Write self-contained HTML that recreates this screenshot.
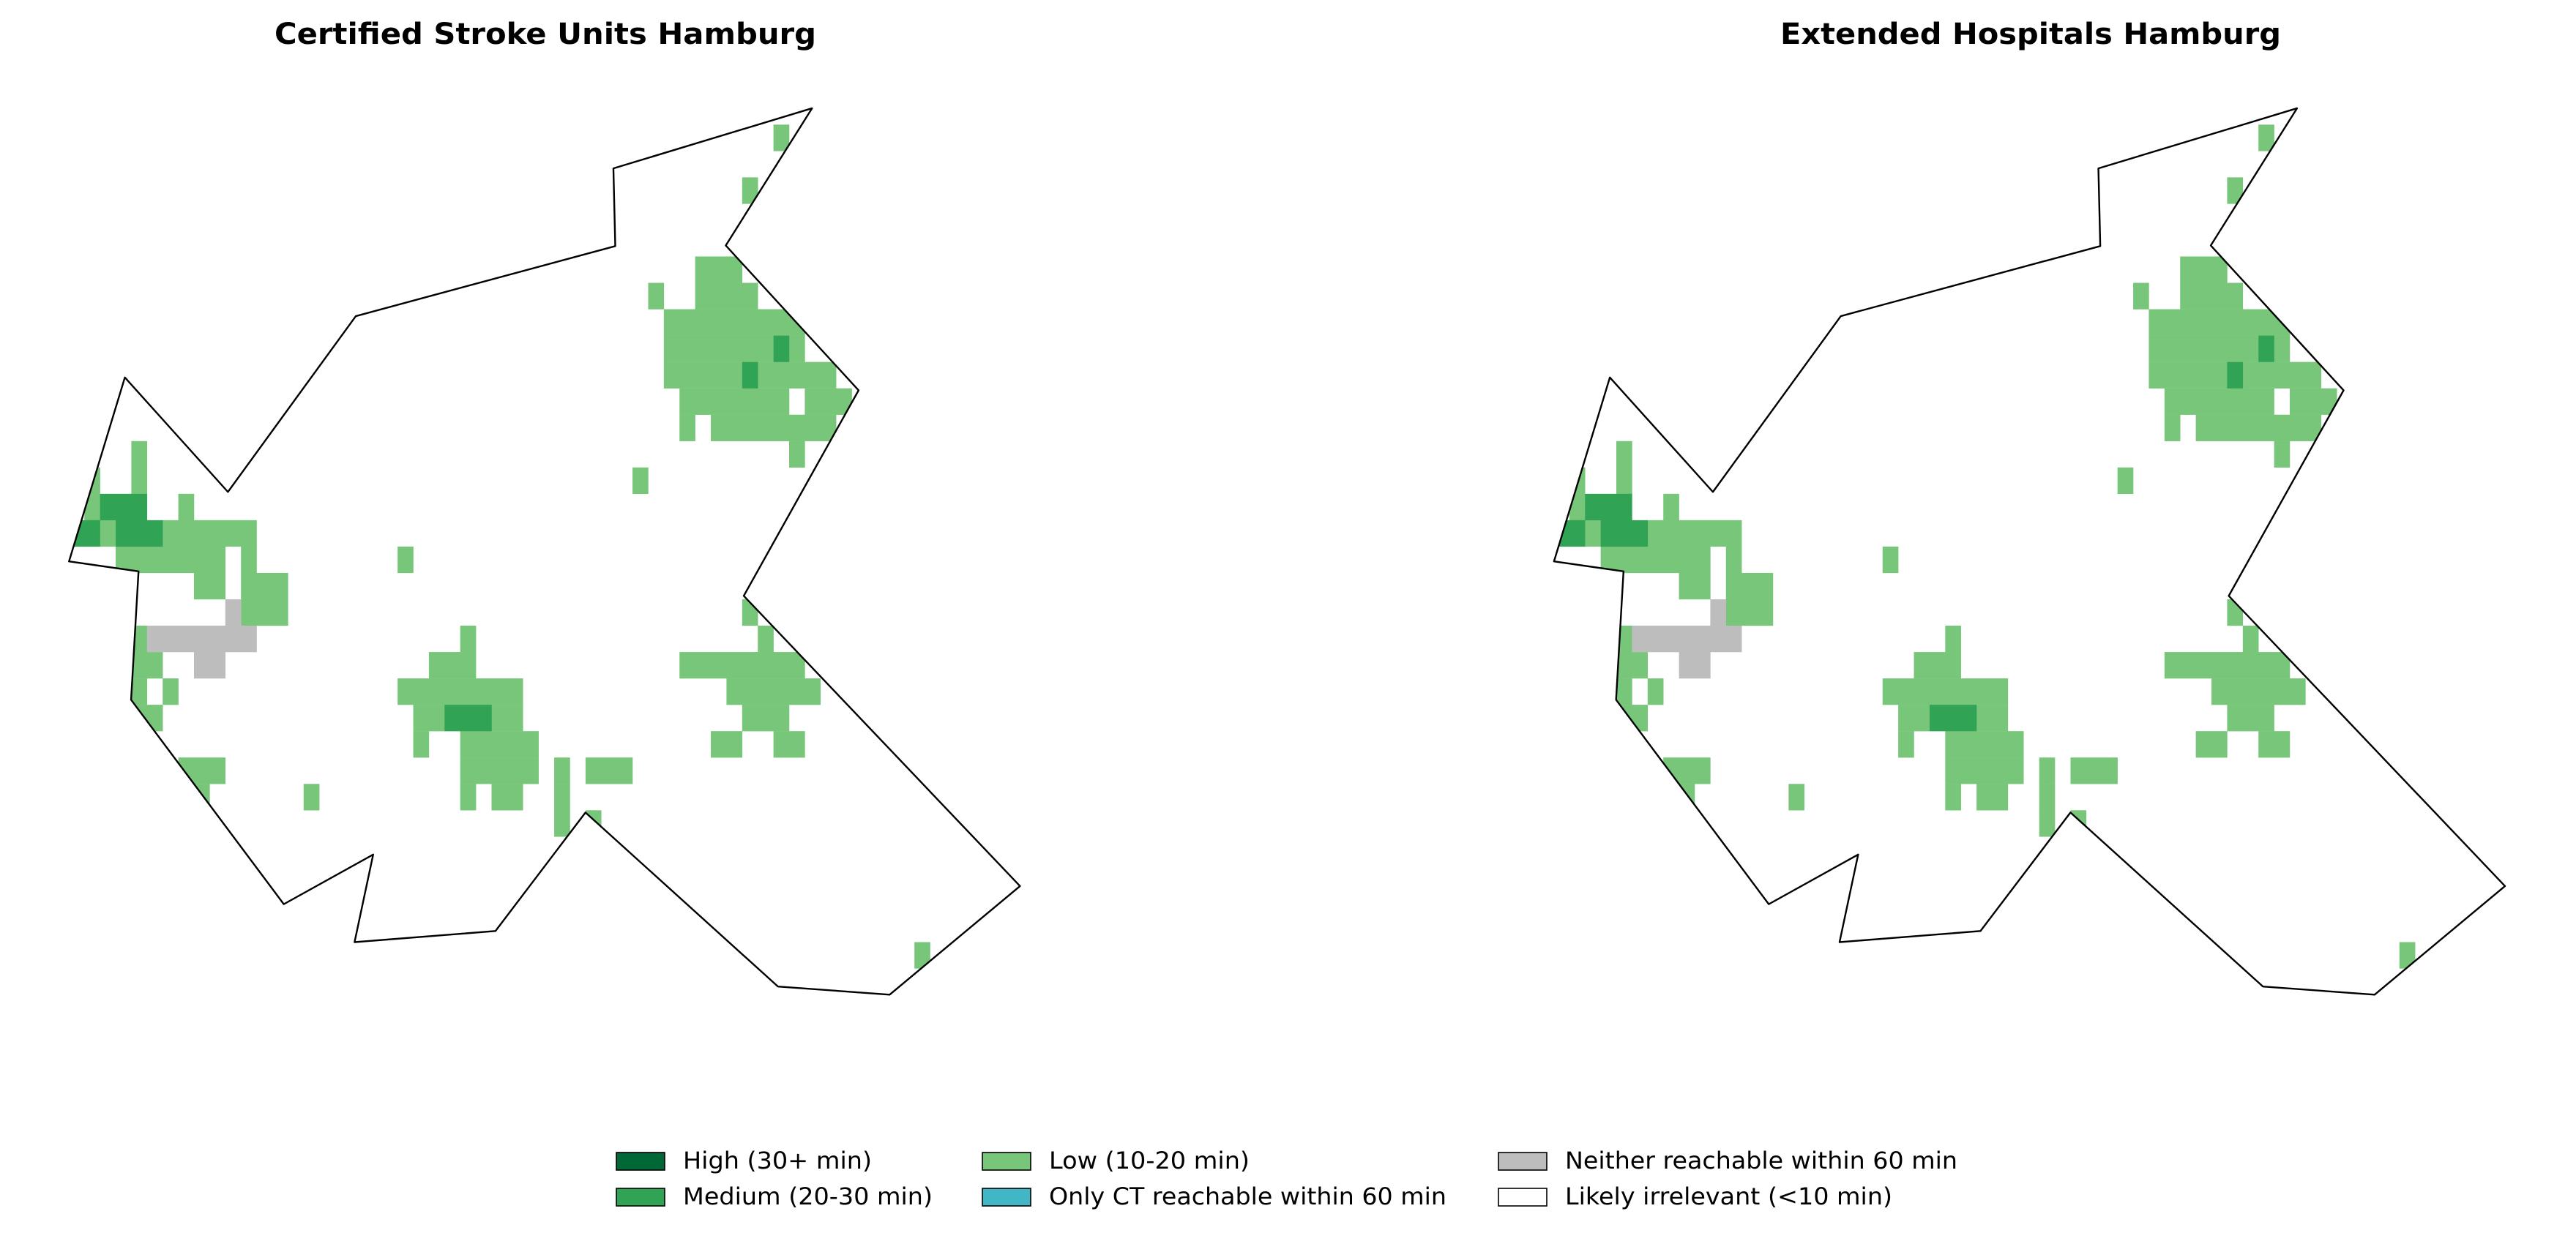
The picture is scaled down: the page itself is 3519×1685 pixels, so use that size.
<!DOCTYPE html>
<html><head><meta charset="utf-8"><style>
body{margin:0;background:#fff}
svg{display:block;font-family:"DejaVu Sans","Liberation Sans",sans-serif}
</style></head><body>
<svg id="chart" width="3519" height="1685" viewBox="0 0 3519 1685">
<defs><clipPath id="clipMap" clipPathUnits="userSpaceOnUse"><polygon id="clipPoly" points=""/></clipPath></defs>
<text x="745" y="60" font-size="40" font-weight="bold" text-anchor="middle" textLength="740" lengthAdjust="spacingAndGlyphs">Certified Stroke Units Hamburg</text>
<text x="2774" y="60" font-size="40" font-weight="bold" text-anchor="middle" textLength="684" lengthAdjust="spacingAndGlyphs">Extended Hospitals Hamburg</text>
<g id="mapL" transform="translate(79,130.4) scale(0.848,0.798)"></g>
<g id="mapR" transform="translate(2107.6,130.4) scale(0.848,0.798)"></g>
<g id="legend"></g>
</svg>
<script>
// runs: [row, colStart, colEnd] per category
const lowRuns=[[0,45,45],[2,43,43],[5,40,42],[6,37,37],[6,40,43],[7,38,46],[8,38,44],[8,46,46],[9,38,42],[9,44,48],[10,39,45],[10,47,49],[11,39,39],[11,41,48],[12,46,46],[13,36,36],[12,4,4],[13,4,4],[13,1,1],[14,1,1],[14,7,7],[15,2,2],[15,6,11],[16,3,9],[16,11,11],[16,21,21],[17,8,9],[17,11,13],[18,11,13],[18,43,43],[19,4,4],[19,25,25],[19,44,44],[20,4,5],[20,23,25],[20,39,46],[21,4,4],[21,6,6],[21,21,28],[21,42,47],[22,4,5],[22,22,23],[22,27,28],[22,43,45],[23,22,22],[23,25,29],[23,41,42],[23,45,46],[24,7,9],[24,25,29],[24,31,31],[24,33,35],[25,8,8],[25,15,15],[25,25,25],[25,27,28],[25,31,31],[26,31,31],[26,33,33],[31,54,54]];
const mediumRuns=[[8,45,45],[9,43,43],[14,2,4],[15,0,1],[15,3,5],[22,24,26]];
const highRuns=[];
const ctRuns=[];
const grayRuns=[[18,10,10],[19,5,11],[20,8,9]];
const legendLabels=["High (30+ min)","Medium (20-30 min)","Low (10-20 min)","Only CT reachable within 60 min","Neither reachable within 60 min","Likely irrelevant (<10 min)"];
const legendColors=["#006837","#31a354","#78c679","#41b6c4","#bdbdbd","#ffffff"];
const legendWidths=[258,341,274,543,536,447];
const border=[[18,798],[108,483],[274,679],[480,378],[898,258],[895,125],[1215,22],[1076,257],[1290,505],[1105,857],[1550,1354],[1340,1540],[1160,1526],[850,1228],[705,1431],[478,1450],[508,1300],[364,1385],[118,1035],[130,815]];
const NS="http://www.w3.org/2000/svg";
const cx=c=>17.5+25.23*c, cy=r=>50+45.16*r;
const pts=border.map(q=>q.join(",")).join(" ");
document.getElementById("clipPoly").setAttribute("points",pts);
function draw(g,prefix){
  const cg=document.createElementNS(NS,"g");
  cg.setAttribute("clip-path","url(#clipMap)");
  
  
  g.appendChild(cg);
  const cats=[[lowRuns,"#78c679","low"],[mediumRuns,"#31a354","medium"],[highRuns,"#006837","high"],[ctRuns,"#41b6c4","ct"],[grayRuns,"#bdbdbd","neither"]];
  cats.forEach(([runs,col,nm])=>{
    runs.forEach(([r,a,b])=>{
      const e=document.createElementNS(NS,"rect");
      e.setAttribute("x",cx(a));e.setAttribute("y",cy(r));
      e.setAttribute("width",cx(b+1)-cx(a)+0.3);e.setAttribute("height",45.4);
      e.setAttribute("fill",col);
      
      
      cg.appendChild(e);
    });
  });
  const p=document.createElementNS(NS,"polygon");
  p.setAttribute("points",pts);
  p.setAttribute("fill","none");p.setAttribute("stroke","#000");p.setAttribute("stroke-width","2.4");
  p.setAttribute("vector-effect","non-scaling-stroke");p.setAttribute("stroke-linejoin","round");
  
  
  g.appendChild(p);
}
draw(document.getElementById("mapL"),"left");
draw(document.getElementById("mapR"),"right");
const lg=document.getElementById("legend");
const colX=[842,1342,2047],rowY=[1575,1624];
legendLabels.forEach((t,i)=>{
  const x=colX[Math.floor(i/2)],y=rowY[i%2];
  const r=document.createElementNS(NS,"rect");
  r.setAttribute("x",x);r.setAttribute("y",y);r.setAttribute("width",66);r.setAttribute("height",24);
  r.setAttribute("fill",legendColors[i]);r.setAttribute("stroke","#000");r.setAttribute("stroke-width","1.6");
  
  
  lg.appendChild(r);
  const s=document.createElementNS(NS,"text");
  s.setAttribute("x",x+91);s.setAttribute("y",y+22);s.setAttribute("font-size","32");
  s.setAttribute("textLength",legendWidths[i]);s.setAttribute("lengthAdjust","spacingAndGlyphs");
  s.textContent=t;
  
  
  lg.appendChild(s);
});
</script>
</body></html>
